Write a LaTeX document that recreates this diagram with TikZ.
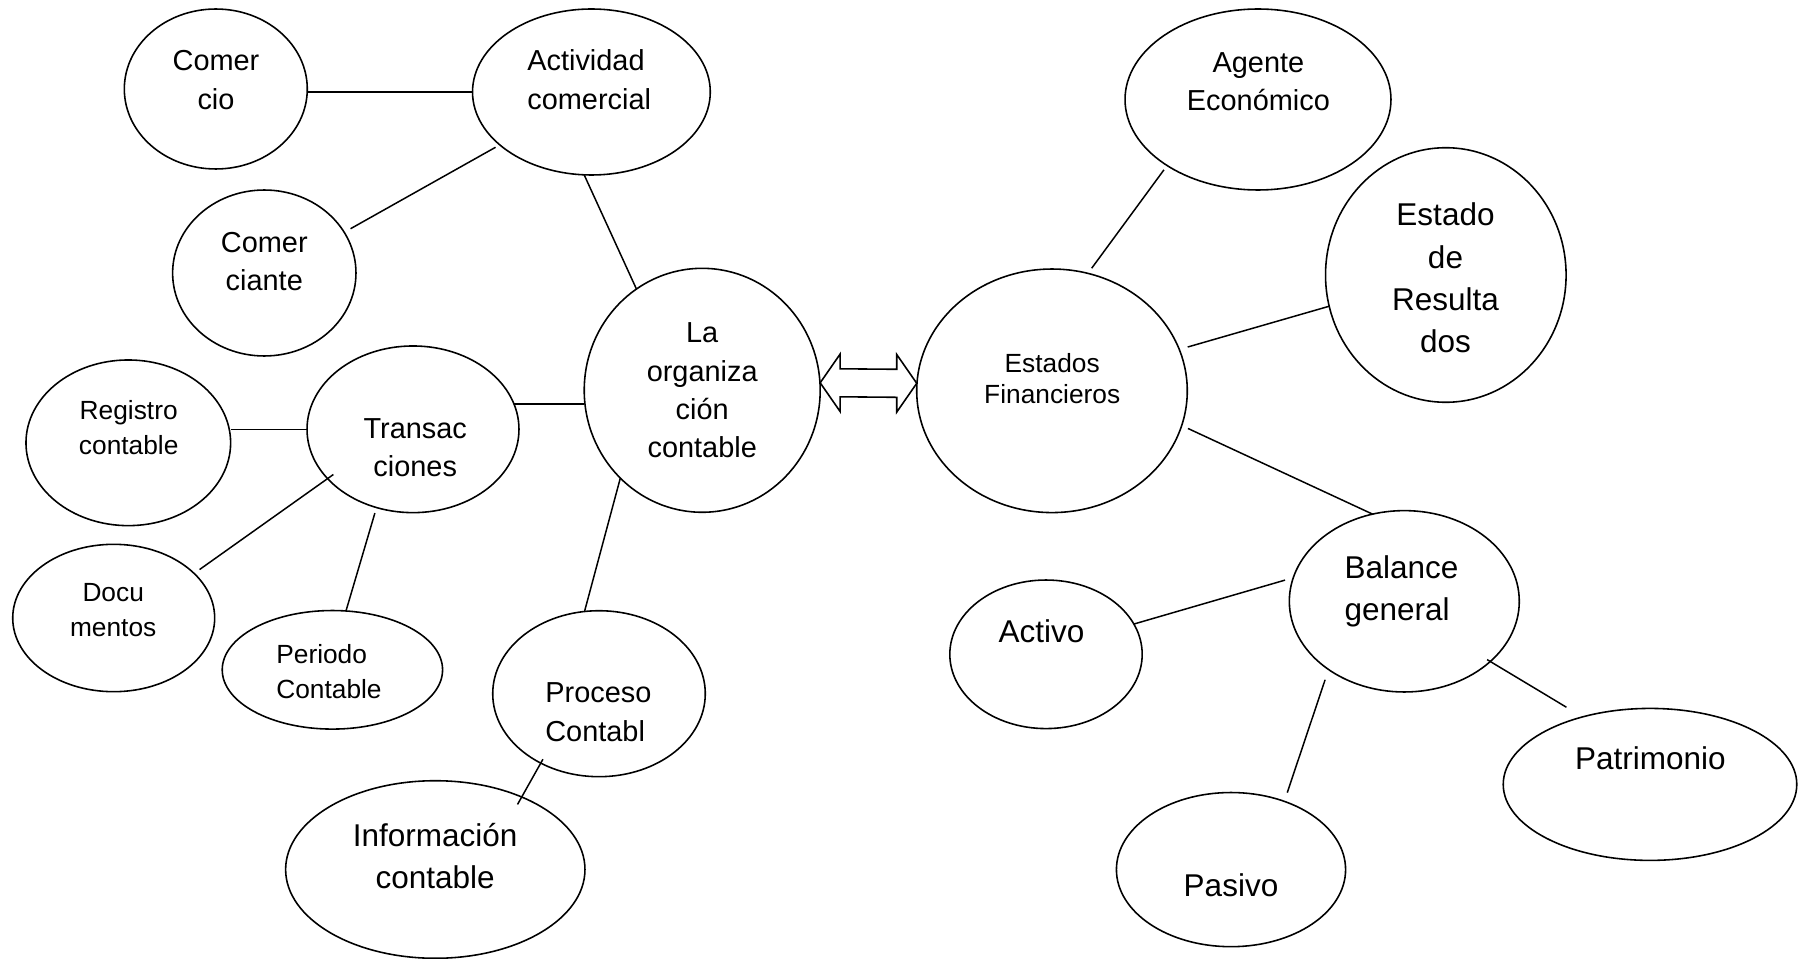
\documentclass[tikz,border=0pt]{standalone}
\usepackage{fontspec}
\setmainfont{Liberation Sans}
\usetikzlibrary{shapes.geometric,calc}

\tikzset{
  bub/.style={draw, ellipse, line width=0.9pt, inner sep=0pt, outer sep=0pt},
  link/.style={line width=0.85pt},
  arrowbox/.style={draw, line width=0.9pt, fill=white, line join=miter},
  lbl/.style={inner sep=0pt, anchor=base, text width=8cm, align=center},
  lbll/.style={inner sep=0pt, anchor=base west, text width=6cm, align=left},
  fs/.style={font=\fontsize{14.97}{19.9}\selectfont},
  fm/.style={font=\fontsize{16.45}{21.8}\selectfont},
  fl/.style={font=\fontsize{17.93}{24}\selectfont},
}

\begin{document}
\begin{tikzpicture}[x=0.02cm, y=-0.02cm]
  \useasboundingbox (0,0) rectangle (1798,959);
  \fill[white] (0,0) rectangle (1798,959);

  % ---- bubbles, left cluster ----
  \node[bub, minimum width=3.66cm,  minimum height=3.20cm]  (cio) at (215.8,89)   {};
  \node[bub, minimum width=4.756cm, minimum height=3.32cm]  (act) at (591.4,92)   {};
  \node[bub, minimum width=3.668cm, minimum height=3.32cm]  (cte) at (264.3,273)  {};
  \node[bub, minimum width=4.72cm,  minimum height=4.88cm]  (org) at (702.2,390.3) {};
  \node[bub, minimum width=4.24cm,  minimum height=3.334cm] (tra) at (413,429.3)  {};
  \node[bub, minimum width=4.094cm, minimum height=3.314cm] (reg) at (128.3,442.8) {};
  \node[bub, minimum width=4.04cm,  minimum height=2.948cm] (doc) at (113.7,618)  {};
  \node[bub, minimum width=4.408cm, minimum height=2.372cm] (per) at (332.4,669.8) {};
  \node[bub, minimum width=4.252cm, minimum height=3.32cm]  (pro) at (599,693.7)  {};
  \node[bub, minimum width=5.988cm, minimum height=3.552cm] (inf) at (435.3,869.5) {};

  % ---- bubbles, right cluster ----
  \node[bub, minimum width=5.412cm, minimum height=4.872cm] (est) at (1052,390.8)  {};
  \node[bub, minimum width=5.32cm,  minimum height=3.62cm]  (age) at (1258,99.5)   {};
  \node[bub, minimum width=4.812cm, minimum height=5.092cm] (res) at (1445.8,275)  {};
  \node[bub, minimum width=4.6cm,   minimum height=3.628cm] (bal) at (1404.3,601.3) {};
  \node[bub, minimum width=3.848cm, minimum height=2.972cm] (acv) at (1046,654.3)  {};
  \node[bub, minimum width=4.584cm, minimum height=3.084cm] (pas) at (1231,869.6)  {};
  \node[bub, minimum width=5.872cm, minimum height=3.04cm]  (pat) at (1650,784.4)  {};

  % ---- labels ----
  \node[lbl, fm]  (cio-t) at (216,71)      {Comer\\cio};
  \node[lbll, fm] (act-t) at (527,71)      {Actividad\\comercial};
  \node[lbl, fm]  (cte-t) at (264.3,252.3) {Comer\\ciante};
  \node[lbl, fm]  (org-t) at (702.2,342.7) {La\\organiza\\ción\\contable};
  \node[lbl, fm]  (tra-t) at (415.2,438.3) {Transac\\ciones};
  \node[lbl, fs]  (reg-t) at (128.7,419.3) {Registro\\contable};
  \node[lbl, fs]  (doc-t) at (113.2,601.7) {Docu\\mentos};
  \node[lbll, fs] (per-t) at (276,663.3)   {Periodo\\Contable};
  \node[lbll, fm] (pro-t) at (545,702.7)   {Proceso\\Contabl};
  \node[lbl, fl]  (inf-t) at (435.2,846.7) {Información\\contable};
  \node[lbl, font=\fontsize{14.97}{17.5}\selectfont] (est-t) at (1052.2,372.7) {Estados\\Financieros};
  \node[lbl, fm]  (age-t) at (1258.4,72.7) {Agente\\Económico};
  \node[lbl, fl]  (res-t) at (1445.5,226)  {Estado\\de\\Resulta\\dos};
  \node[lbll, fl] (bal-t) at (1344.3,578)  {Balance\\general};
  \node[lbl, fl]  (acv-t) at (1041.4,642.7) {Activo};
  \node[lbl, fl]  (pas-t) at (1231,896.7)  {Pasivo};
  \node[lbl, fl]  (pat-t) at (1650.3,769.3) {Patrimonio};

  % ---- connectors, left cluster ----
  \draw[link] (act.west) -- (act.west -| cio.east);
  \draw[link, shorten <=0.146cm, shorten >=0.098cm] (cte.27.8) -- (act.210.8);
  \draw[link] (act.265.1) -- (org.123.1);
  \draw[link] (tra.14.4) -- (tra.14.4 -| org.west);
  \draw[link] (tra.west) -- (tra.west -| reg.east);
  \draw[link, shorten <=0.134cm, shorten >=-0.142cm] (doc.29.5) -- (tra.210.7);
  \draw[link, shorten >=0.116cm] (per.77.2) -- (tra.245.8);
  \draw[link] (pro.100.1) -- (org.227);
  \draw[link, shorten <=-0.088cm, shorten >=-0.17cm] (pro.230.4) -- (inf.40);

  % ---- connectors, right cluster ----
  \draw[link, shorten <=0.106cm, shorten >=0.128cm] (age.216.2) -- (est.73);
  \draw[link, shorten <=0.176cm] (est.18.5) -- (res.195.1);
  \draw[link, shorten <=0.138cm] (est.-15.9) -- (bal.110.1);
  \draw[link, shorten >=0.172cm] (acv.19.26) -- (bal.168.4);
  \draw[link, shorten <=0.184cm, shorten >=0.216cm] (pas.52.6) -- (bal.222.3);
  \draw[link, shorten <=-0.074cm, shorten >=0.376cm] (bal.-35.3) -- (pat.135.1);

  % ---- hollow double arrow between the two hubs ----
  \coordinate (dl) at ([yshift=0.15cm]org.east);
  \coordinate (dr) at ([yshift=0.15cm]est.west);
  \draw[arrowbox] (dl) -- ($(dl)+(20,-28.8)$) -- ($(dl)+(20,-14)$)
    -- ($(dr)+(-20,-14)$) -- ($(dr)+(-20,-28.8)$) -- (dr)
    -- ($(dr)+(-20,28.8)$) -- ($(dr)+(-20,14)$)
    -- ($(dl)+(20,14)$) -- ($(dl)+(20,28.8)$) -- cycle;
\end{tikzpicture}
\end{document}
